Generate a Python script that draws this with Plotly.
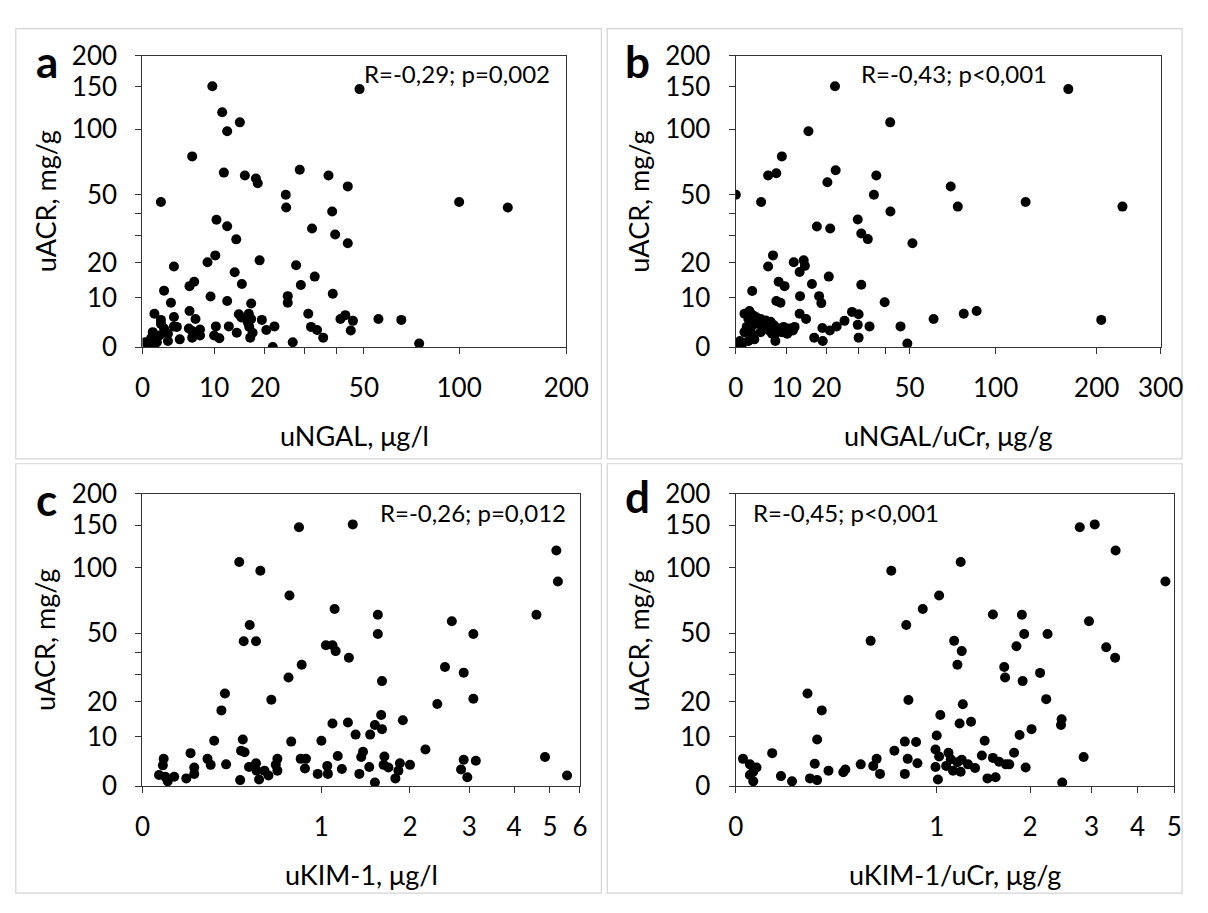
import numpy as np
import plotly.graph_objects as go

W, H = 1208, 913

# ---------------- data ----------------
# Panel a: uNGAL (ug/l) vs uACR (mg/g)
a_x = [9.7, 48.3, 11.4, 14.7, 12.3, 6.5, 11.7, 15.7, 18.0, 18.4, 28.7, 37.3, 43.9, 2.2, 25.0, 25.1, 38.5,
       100, 138, 10.4, 12.3, 14.0, 32.2, 39.5, 43.9, 10.2, 8.9, 18.8, 3.9, 13.7, 15.1, 27.7, 29.0, 33.0,
       6.8, 6.1, 2.6, 9.4, 3.5, 12.3, 17.0, 25.5, 25.5, 38.7, 31.1, 1.4, 2.2, 3.9, 6.1, 7.0, 14.5, 16.5,
       17.0, 19.3, 41.3, 43.0, 45.8, 56.0, 66.5, 75.7, 3.9, 1.2, 3.1, 4.3, 6.0, 7.7, 6.5, 7.7, 4.7, 0.3,
       1.7, 3.1, 10.3, 10.0, 10.9, 12.6, 14.1, 16.6, 16.8, 20.3, 22.2, 21.8, 26.8, 31.9, 33.7, 35.6, 45.0,
       2.2, 2.6, 1.0, 2.0, 16.3, 6.5, 1.0, 17.3, 15.0]
a_y = [151, 147, 118, 107, 98, 76, 64, 62, 60, 57, 66, 62, 55, 46, 50, 43, 41,
       46, 43, 37, 34, 28.5, 33, 30.5, 27, 22.5, 20.2, 20.8, 18.8, 17, 13.6, 19.2, 13.3, 15.7,
       14.2, 13, 11.8, 10.3, 8.8, 9.2, 8.6, 10.4, 8.8, 11, 6.3, 6.3, 5.0, 5.6, 6.9, 5.2, 6.2, 6.3,
       5.2, 5.0, 5.2, 6.0, 4.8, 5.2, 5.0, 0.6, 3.7, 2.6, 2.3, 3.6, 3.3, 3.1, 1.6, 2.0, 1.3, 0.8,
       0.8, 1.0, 3.7, 2.0, 1.5, 3.7, 2.5, 3.6, 1.6, 3.0, 3.7, 0.0, 0.8, 3.6, 3.0, 1.6, 2.9,
       4.2, 3.3, 1.5, 2.0, 4.5, 2.8, 0.3, 2.5, 5.5]

# Panel b: uNGAL/uCr (ug/g) vs uACR (mg/g)
b_x = [22.5, 166, 41.7, 15.2, 8.9, 6.0, 7.7, 22.7, 36.3, 20.3, 35.4, 0.0, 4.6, 70.9, 75, 124, 236,
       41.8, 29.7, 30.9, 33.2, 17.4, 21.1, 51.3, 7.0, 6.0, 11.6, 14.0, 14.3, 13.0, 20.7, 30.9, 8.2, 9.5,
       16.1, 2.9, 13.1, 18.0, 18.6, 7.7, 8.6, 39.5, 13.0, 14.6, 27.8, 30.0, 61.6, 78.6, 86.8, 206,
       46.0, 49.0, 29.7, 33.8, 30.0, 25.4, 23.0, 21.0, 18.9, 16.7, 19.0,
       1.5, 2.4, 3.0, 2.2, 3.6, 4.5, 5.5, 6.5, 1.9, 3.0, 4.2, 5.1, 6.2, 7.2, 8.2, 9.3, 10.6, 11.8,
       1.5, 2.8, 4.5, 7.5, 8.9, 10.1, 0.7, 2.2, 3.3, 7.5, 11.4, 4.8, 6.8, 0.3, 1.0]
b_y = [151, 147, 107, 98, 76, 62, 63.5, 65.6, 62, 57.6, 50, 50, 46, 54.9, 43.5, 46, 43.5,
       41, 37.1, 30.9, 28.6, 33.9, 33, 27, 22.5, 18.8, 20.2, 20.8, 19, 17.1, 15.7, 13.4, 14.2, 13,
       13.6, 11.7, 10.4, 10.4, 8.7, 9.2, 8.8, 8.9, 6.3, 5.2, 6.7, 6.2, 5.2, 6.3, 6.9, 5.0,
       3.7, 0.6, 4.0, 3.7, 1.6, 4.8, 3.7, 2.9, 3.4, 1.6, 1.0,
       6.3, 6.9, 6.0, 5.2, 5.6, 5.2, 4.9, 4.6, 3.6, 3.9, 4.3, 3.3, 2.9, 3.9, 3.3, 3.6, 3.3, 3.6,
       2.6, 2.3, 2.6, 2.3, 2.6, 2.3, 1.0, 1.0, 1.3, 1.0, 2.9, 4.3, 2.3, 0.5, 0.3]

# Panel c: uKIM-1 (ug/l) vs uACR (mg/g)
c_x = [0.815, 1.30, 0.42, 0.545, 5.2, 5.25, 0.743, 1.12, 1.58, 1.58, 2.67, 3.08, 4.6, 0.48, 0.445, 0.518,
       1.04, 1.10, 1.13, 1.26, 1.63, 0.836, 0.736, 2.55, 2.89, 3.08, 2.42, 0.343, 0.325, 0.616, 0.289,
       0.44, 0.43, 0.45, 0.181, 0.074, 0.071, 0.057, 0.08, 0.089, 0.114, 0.163, 0.197, 0.197, 0.257,
       0.272, 0.349, 0.425, 0.476, 0.518, 0.522, 0.537, 0.571, 0.597, 0.657, 0.646, 0.657, 0.756, 0.828,
       0.87, 0.862, 1.0, 0.968, 1.052, 1.058, 1.10, 1.15, 1.19, 1.25, 1.33, 1.37, 1.41, 1.39, 1.48, 1.49,
       1.545, 1.545, 1.63, 1.62, 1.66, 1.65, 1.71, 1.80, 1.84, 1.86, 1.9, 2.0, 2.23, 2.89, 2.84, 2.96,
       3.13, 4.85, 5.55]
c_y = [147, 151, 105.7, 97, 118, 87, 75.4, 65.4, 61.5, 49.6, 57.3, 49.6, 61.5, 54.9, 45.6, 45.6,
       43.5, 43.5, 40.5, 37.3, 27.3, 34.1, 28.7, 33.1, 30.7, 20.9, 19.2, 22.7, 17.2, 20.6, 9.0,
       9.3, 6.7, 6.4, 6.2, 5.0, 3.7, 1.9, 1.6, 0.8, 1.6, 1.3, 2.1, 3.3, 5.0,
       3.8, 3.9, 1.0, 3.4, 4.1, 2.7, 1.1, 2.7, 1.8, 5.0, 3.8, 2.7, 8.8, 5.0,
       5.0, 3.1, 9.0, 2.1, 3.6, 2.1, 13.4, 5.6, 3.0, 13.7, 10.5, 2.1, 6.5, 5.4, 3.4, 10.5,
       0.6, 13.0, 11.9, 15.8, 5.5, 3.8, 3.3, 1.3, 2.7, 4.1, 14.3, 3.8, 7.0, 4.8, 2.9, 1.5,
       4.6, 5.4, 1.8]

# Panel d: uKIM-1/uCr (ug/g) vs uACR (mg/g)
d_x = [2.78, 3.06, 3.49, 4.74, 1.21, 0.67, 1.02, 0.89, 0.77, 0.545, 1.54, 1.89, 1.92, 2.25, 2.95, 3.29,
       3.48, 1.15, 1.22, 1.18, 1.67, 1.68, 1.82, 1.9, 2.14, 2.23, 2.47, 2.46, 0.24, 0.30, 0.785, 1.23,
       1.03, 1.2, 1.31, 2.02, 1.86, 1.0, 0.28, 0.76, 0.84, 1.45, 0.11, 0.02, 0.04, 0.06, 0.04, 0.05,
       0.14, 0.18, 0.25, 0.28, 0.27, 0.33, 0.40, 0.41, 0.49, 0.58, 0.56, 0.6, 0.69, 0.78, 0.85, 0.76,
       0.99, 1.02, 0.99, 1.01, 1.1, 1.12, 1.18, 1.22, 1.28, 1.35, 1.08, 1.14, 1.21, 1.42, 1.54, 1.61,
       1.69, 1.73, 1.48, 1.57, 1.79, 1.94, 2.48, 2.85, 0.05]
d_y = [147, 151, 118, 87, 105.7, 97, 75.4, 65.4, 54.9, 45.8, 61.7, 61.5, 49.6, 49.6, 57.3, 42.4,
       37.3, 45.8, 40.5, 34.1, 33.1, 28.7, 43, 27.3, 30.6, 20.8, 14.6, 13.0, 22.7, 17.2, 20.5, 19.1,
       15.8, 13.4, 13.9, 11.9, 10.4, 10.3, 9.3, 8.8, 8.7, 9.0, 6.2, 5.0, 3.9, 3.3, 1.9, 0.8,
       1.7, 0.8, 1.3, 1.0, 4.0, 2.7, 2.4, 2.9, 3.9, 5.0, 3.6, 2.1, 6.7, 5.0, 4.1, 2.1,
       7.0, 5.5, 3.4, 1.1, 6.3, 4.9, 4.3, 4.8, 3.9, 3.2, 3.6, 2.7, 2.5, 5.7, 5.2, 4.4,
       3.9, 3.9, 1.3, 1.5, 6.3, 3.3, 0.6, 5.4, 2.5]

y_ticks = [0, 10, 20, 30, 40, 50, 100, 150, 200]
y_labels = ["0", "10", "20", "", "", "50", "100", "150", "200"]
a_ticks = [0, 10, 20, 30, 40, 50, 100, 200]
a_labels = ["0", "10", "20", "", "", "50", "100", "200"]
b_ticks = [0, 10, 20, 30, 40, 50, 100, 200, 300]
b_labels = ["0", "10", "20", "", "", "50", "100", "200", "300"]
c_ticks = [0, 1, 2, 3, 4, 5, 6]
d_ticks = [0, 1, 2, 3, 4, 5]

titles_x = ["uNGAL, μg/l", "uNGAL/uCr, μg/g", "uKIM-1, μg/l", "uKIM-1/uCr, μg/g"]
title_y = "uACR, mg/g"
letters = ["a", "b", "c", "d"]
stats = ["R=-0,29; p=0,002", "R=-0,43; p<0,001", "R=-0,26; p=0,012", "R=-0,45; p<0,001"]


def tf(v, vmax):
    """Axis scale of the original chart: log(v + vmax/10)."""
    return np.log10(np.asarray(v, dtype=float) + vmax / 10.0)


FONT = "Lato"
AX = "#333333"

panels = [
    dict(x=a_x, y=a_y, xmax=200, xt=a_ticks, xl=a_labels, box=(138, 573, 40, 342),
         stat=dict(x=558, y=59, anchor="right"), letter=(40, 46), ytx=38),
    dict(x=b_x, y=b_y, xmax=300, xt=b_ticks, xl=b_labels, box=(747, 1183, 40, 342),
         stat=dict(x=1068, y=59, anchor="right"), letter=(646, 46), ytx=647),
    dict(x=c_x, y=c_y, xmax=6, xt=c_ticks, xl=[str(t) for t in c_ticks], box=(138, 587, 494, 797),
         stat=dict(x=575, y=514, anchor="right"), letter=(40, 499), ytx=38),
    dict(x=d_x, y=d_y, xmax=5, xt=d_ticks, xl=[str(t) for t in d_ticks], box=(747, 1197, 494, 797),
         stat=dict(x=763, y=513, anchor="left"), letter=(646, 496), ytx=647),
]

fig = go.Figure()
annotations = []
shapes = []
YMAX = 200

for i, p in enumerate(panels):
    n = "" if i == 0 else str(i + 1)
    l, r, t, b = p["box"]
    fig.add_trace(go.Scatter(
        x=tf(p["x"], p["xmax"]), y=tf(p["y"], YMAX), mode="markers",
        marker=dict(color="black", size=10, line=dict(width=0)),
        xaxis="x" + n, yaxis="y" + n, showlegend=False, hoverinfo="skip"))
    common = dict(showgrid=False, zeroline=False, showline=True, linecolor=AX, linewidth=1.4,
                  mirror=True, ticks="outside", ticklen=6, tickwidth=1.4, tickcolor=AX,
                  tickfont=dict(family=FONT, size=26, color="black"), tickmode="array")
    fig.layout["xaxis" + n] = dict(
        domain=[l / W, r / W], anchor="y" + n,
        range=[float(tf(0, p["xmax"])), float(tf(p["xmax"], p["xmax"]))],
        tickvals=list(tf(p["xt"], p["xmax"])), ticktext=p["xl"], ticklabelstandoff=12, **common)
    fig.layout["yaxis" + n] = dict(
        domain=[1 - b / H, 1 - t / H], anchor="x" + n,
        range=[float(tf(0, YMAX)), float(tf(YMAX, YMAX))],
        tickvals=list(tf(y_ticks, YMAX)), ticktext=y_labels, ticklabelstandoff=13, **common)

    cx = (l + r) / 2
    cy = (t + b) / 2
    annotations.append(dict(x=cx / W, y=1 - (b + 92) / H, xref="paper", yref="paper",
                            text=titles_x[i], showarrow=False, xanchor="center", yanchor="middle",
                            font=dict(family=FONT, size=27, color="black")))
    annotations.append(dict(x=p["ytx"] / W, y=1 - cy / H, xref="paper", yref="paper",
                            text=title_y, showarrow=False, textangle=-90,
                            xanchor="center", yanchor="middle",
                            font=dict(family=FONT, size=27, color="black")))
    s = p["stat"]
    annotations.append(dict(x=s["x"] / W, y=1 - s["y"] / H, xref="paper", yref="paper",
                            text=stats[i], showarrow=False, xanchor=s["anchor"], yanchor="middle",
                            font=dict(family=FONT, size=24, color="black")))
    lx, ly = p["letter"]
    annotations.append(dict(x=lx / W, y=1 - ly / H, xref="paper", yref="paper",
                            text="<b>%s</b>" % letters[i], showarrow=False,
                            xanchor="center", yanchor="middle",
                            font=dict(family=FONT, size=44, color="black")))

# light grey frames around the four panels
for (x0, y0, x1, y1) in [(8, 12, 609, 458), (615, 12, 1205, 458), (8, 463, 609, 908), (615, 463, 1205, 908)]:
    shapes.append(dict(type="rect", xref="paper", yref="paper", x0=x0 / W, x1=x1 / W,
                       y0=1 - y1 / H, y1=1 - y0 / H, line=dict(color="#d4d4d4", width=1.2),
                       layer="below"))

fig.update_layout(width=W, height=H, autosize=False, margin=dict(l=0, r=0, t=0, b=0),
                  paper_bgcolor="white", plot_bgcolor="white",
                  annotations=annotations, shapes=shapes,
                  font=dict(family=FONT, color="black"))

fig.write_html("out.html", config={"displayModeBar": False})

# remove the browser's default page margin so the figure sits at (0, 0)
with open("out.html", "r", encoding="utf-8") as fh:
    html = fh.read()
html = html.replace("<head>", "<head><style>html,body{margin:0;padding:0;overflow:hidden;}</style>", 1)
with open("out.html", "w", encoding="utf-8") as fh:
    fh.write(html)
